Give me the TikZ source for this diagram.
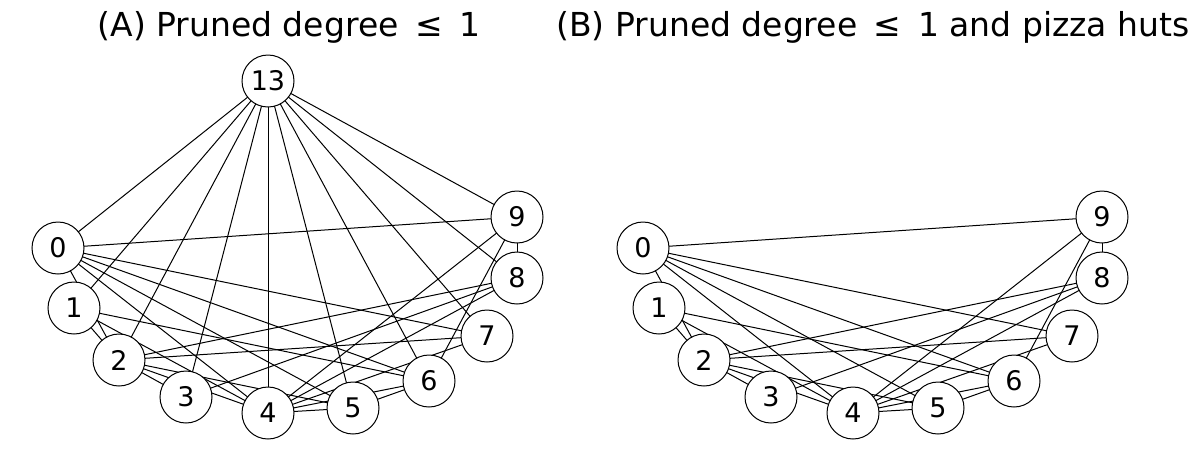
\documentclass[tikz,border=0pt]{standalone}
\usepackage{fontspec}
\setmainfont{DejaVu Sans}
\pgfdeclarelayer{bg}
\pgfsetlayers{bg,main}
\begin{document}
\begin{tikzpicture}[x=1pt,y=-1pt,
  vtx/.style={circle,draw,fill=white,line width=1pt,minimum size=52pt,inner sep=0pt,font=\fontsize{27}{27}\selectfont},
  edge/.style={line width=1pt},
  ttl/.style={font=\fontsize{33}{33}\selectfont,inner sep=0pt}]
\useasboundingbox (0,0) rectangle (1203,459);
\node[ttl] (ta) at (289,27) {(A) Pruned degree\hspace{0.5em}≤\hspace{0.5em}1};
\node[ttl] (tb) at (873,27) {(B) Pruned degree\hspace{0.5em}≤\hspace{0.5em}1 and pizza huts};
% panel A
\foreach \n/\x/\y in {13/268/81,0/58/248,1/74/308,2/119/360,3/186/397,4/268/413,5/353/408,6/429/381,7/487/336,8/517/278,9/517/217}
  \node[vtx] (a\n) at (\x,\y) {\n};
% panel B
\foreach \n/\x/\y in {0/58/248,1/74/308,2/119/360,3/186/397,4/268/413,5/353/408,6/429/381,7/487/336,8/517/278,9/517/217}
  \node[vtx] (b\n) at (\x+585,\y) {\n};
\begin{pgfonlayer}{bg}
\foreach \u/\v in {0/2,0/4,0/5,0/6,0/7,0/9,1/2,1/4,1/6,2/3,2/4,2/5,2/7,2/8,3/8,4/5,4/6,4/7,4/8,4/9,5/6,6/9,8/9}{
  \draw[edge] (a\u.center) -- (a\v.center);
  \draw[edge] (b\u.center) -- (b\v.center);
}
\foreach \v in {0,1,2,3,4,5,6,7,8,9}
  \draw[edge] (a13.center) -- (a\v.center);
\end{pgfonlayer}
\end{tikzpicture}
\end{document}
